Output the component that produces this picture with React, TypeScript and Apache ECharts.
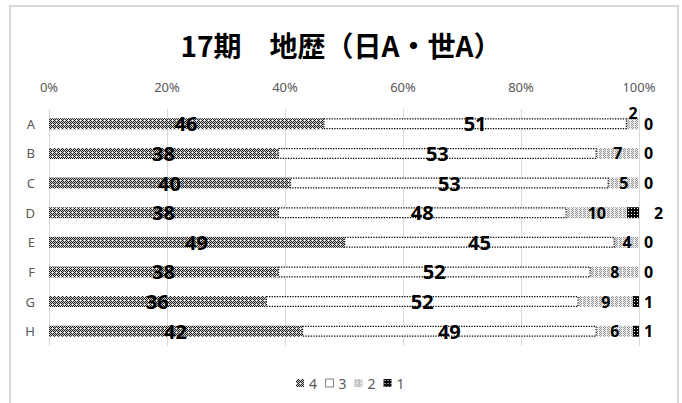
import React, { useEffect, useRef } from "react";
import * as echarts from "echarts";

const categories = ["A", "B", "C", "D", "E", "F", "G", "H"];
const seriesNames = ["4", "3", "2", "1"];
const values4 = [46, 38, 40, 38, 49, 38, 36, 42];
const values3 = [51, 53, 53, 48, 45, 52, 52, 49];
const values2 = [2, 7, 5, 10, 4, 8, 9, 6];
const values1 = [0, 0, 0, 2, 0, 0, 1, 1];
const xTicks = [0, 20, 40, 60, 80, 100];
const titleText = "17期　地歴（日A・世A）";

function makePattern(w: number, h: number, fn: (x: number, y: number) => number[]) {
  const c = document.createElement("canvas");
  c.width = w;
  c.height = h;
  const ctx = c.getContext("2d")!;
  const img = ctx.createImageData(w, h);
  for (let y = 0; y < h; y++) {
    for (let x = 0; x < w; x++) {
      const [r, g, b] = fn(x, y);
      const i = (y * w + x) * 4;
      img.data[i] = r;
      img.data[i + 1] = g;
      img.data[i + 2] = b;
      img.data[i + 3] = 255;
    }
  }
  ctx.putImageData(img, 0, 0);
  return { image: c, repeat: "repeat", imageWidth: w, imageHeight: h } as any;
}

export default function App() {
  const ref = useRef<HTMLDivElement>(null);
  useEffect(() => {
    if (!ref.current) return;
    const chart = echarts.init(ref.current, null, { renderer: "svg" });

    const p4 = makePattern(8, 8, (x, y) => {
      if (x % 4 === 0 && y % 4 === 0) return [255, 255, 255];
      return (x + y) % 2 === 0 ? [30, 30, 30] : [205, 205, 205];
    });
    const p2 = makePattern(4, 4, (x, y) =>
      (x + y) % 2 === 0 && (x % 4 === 0 || y % 2 === 1) ? [150, 150, 150] : [238, 238, 238]
    );
    const p1 = makePattern(3, 3, (x, y) => (x === 1 && y === 1 ? [255, 255, 255] : [10, 10, 10]));

    const raw = [values4, values3, values2, values1];
    const totals = categories.map((_, i) => raw.reduce((s, arr) => s + arr[i], 0));
    const pct = (arr: number[]) => arr.map((v, i) => (v / totals[i]) * 100);

    const bigLabel = {
      show: true,
      color: "#000",
      fontSize: 20,
      fontWeight: "bold",
      fontFamily: "Noto Sans",
      textBorderWidth: 0,
    };
    const smallLabel = { ...bigLabel, fontSize: 16 };

    const mk = (k: number, extra: any) => ({
      name: seriesNames[k],
      type: "bar",
      stack: "total",
      barWidth: 11,
      clip: false,
      data: pct(raw[k]).map((v) => ({ value: v } as any)),
      ...extra,
    });

    const s4 = mk(0, {
      itemStyle: { color: p4 },
      label: { ...bigLabel, position: "inside", formatter: (p: any) => String(values4[p.dataIndex]) },
    });
    const s3 = mk(1, {
      itemStyle: { color: "#fff", borderColor: "#000", borderWidth: 1.3, borderType: "dotted" },
      label: { ...bigLabel, position: "inside", formatter: (p: any) => String(values3[p.dataIndex]) },
    });
    const s2 = mk(2, {
      itemStyle: { color: p2 },
      label: { ...smallLabel, position: "inside", formatter: (p: any) => String(values2[p.dataIndex]) },
    });
    s2.data[0].label = { offset: [0, -11] };
    const s1 = mk(3, {
      itemStyle: { color: p1 },
      label: { ...smallLabel, position: "right", distance: 5, formatter: (p: any) => String(values1[p.dataIndex]) },
    });
    s1.data[3].label = { offset: [10, 0] };

    chart.setOption({
      animation: false,
      backgroundColor: "#fff",
      title: {
        text: titleText,
        left: "center",
        top: 26,
        textStyle: { fontSize: 28, fontWeight: "bold", color: "#000", fontFamily: "Noto Sans CJK JP" },
      },
      graphic: [
        {
          type: "rect",
          shape: { x: 10, y: 6, width: 668, height: 420 },
          style: { fill: "none", stroke: "#d9d9d9", lineWidth: 2 },
          silent: true,
        },
      ],
      legend: {
        data: [
          { name: "4" },
          { name: "3", itemStyle: { borderColor: "#7f7f7f", borderType: "solid", borderWidth: 1 } },
          { name: "2" },
          { name: "1" },
        ],
        left: 291,
        top: 371,
        icon: "rect",
        itemWidth: 8,
        itemHeight: 8,
        itemGap: 8,
        textStyle: { fontSize: 14, color: "#595959", fontFamily: "Noto Sans" },
      },
      grid: { left: 49, right: 43, top: 109, bottom: 57, containLabel: false },
      xAxis: {
        type: "value",
        position: "top",
        min: xTicks[0],
        max: xTicks[xTicks.length - 1],
        interval: xTicks[1] - xTicks[0],
        axisLine: { show: false },
        axisTick: { show: false },
        axisLabel: { formatter: "{value}%", color: "#595959", fontSize: 13, margin: 16, fontFamily: "Noto Sans" },
        splitLine: { show: true, lineStyle: { color: "#d9d9d9", width: 1 } },
      },
      yAxis: {
        type: "category",
        inverse: true,
        data: categories,
        axisLine: { show: false },
        axisTick: { show: false },
        axisLabel: { color: "#595959", fontSize: 13, margin: 14, fontFamily: "Noto Sans" },
      },
      series: [s4, s3, s2, s1],
    });
    return () => chart.dispose();
  }, []);
  return <div ref={ref} style={{ position: "absolute", left: 0, top: 0, width: 682, height: 403 }} />;
}
